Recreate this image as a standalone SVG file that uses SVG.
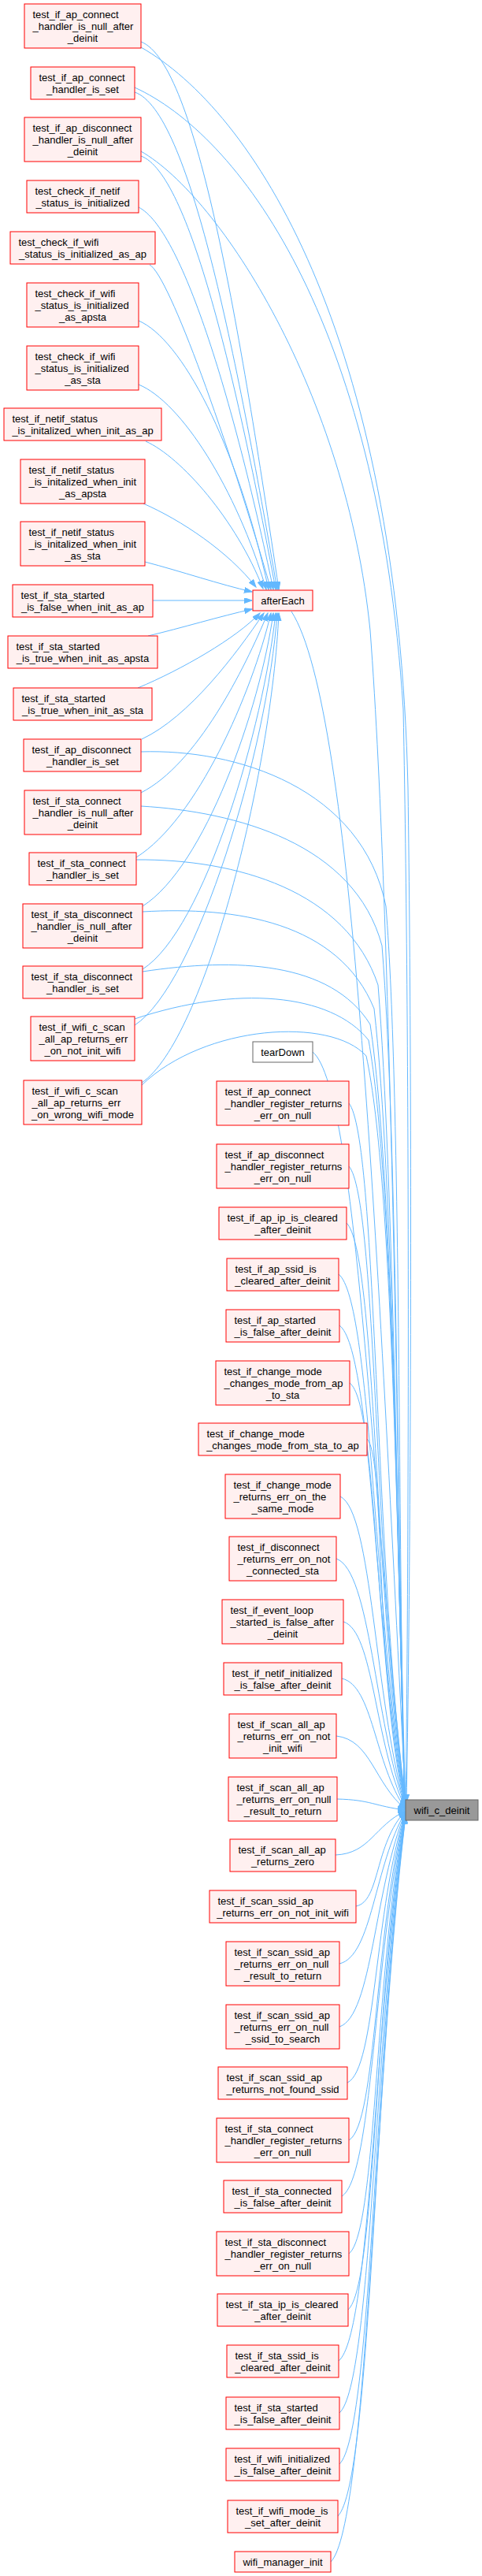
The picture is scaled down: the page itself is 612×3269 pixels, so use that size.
<svg xmlns="http://www.w3.org/2000/svg" width="612" height="3269" viewBox="0 0 612 3269">
<style>
.bg{fill:#ffffff}
.n rect{fill:#fff0f0;stroke:#ff0000;stroke-width:1}
.w rect{fill:#ffffff;stroke:#666666;stroke-width:1}
.g rect{fill:#999999;stroke:#666666;stroke-width:1}
text{font-family:"Liberation Sans",Arial,sans-serif;font-size:13px;fill:#000000}
.c{text-anchor:middle}
.e path{fill:none;stroke:#63b8ff;stroke-width:1}
</style>
<defs>
<marker id="ah" markerUnits="userSpaceOnUse" markerWidth="11" markerHeight="8" refX="10" refY="3.5" orient="auto"><path d="M0,0 L10,3.5 L0,7 z" fill="#63b8ff" stroke="#63b8ff" stroke-width="1"/></marker>
</defs>
<rect class="bg" x="0" y="0" width="612" height="3269"/>
<g id="edges" class="e" marker-end="url(#ah)">
<!-- left column to afterEach -->
<path d="M179,53 C250,80 305,420 354,748" marker-end="url(#ah)"/>
<path d="M171,117 C240,140 300,450 352,748" marker-end="url(#ah)"/>
<path d="M179,198 C240,220 300,480 350,748" marker-end="url(#ah)"/>
<path d="M176,263 C230,290 295,500 347,748" marker-end="url(#ah)"/>
<path d="M190,336 C215,350 290,560 344,748" marker-end="url(#ah)"/>
<path d="M176,407 C230,430 300,560 341,748" marker-end="url(#ah)"/>
<path d="M176,488 C230,510 300,620 338,748" marker-end="url(#ah)"/>
<path d="M185,560 C230,580 300,660 334,747" marker-end="url(#ah)"/>
<path d="M182,639 C230,660 290,700 325,745" marker-end="url(#ah)"/>
<path d="M184,713 C230,725 280,742 320,751" marker-end="url(#ah)"/>
<path d="M194,762 L320,762" marker-end="url(#ah)"/>
<path d="M188,807 C230,797 280,782 320,773" marker-end="url(#ah)"/>
<path d="M175,873 C230,850 300,810 330,778" marker-end="url(#ah)"/>
<path d="M180,938 C240,910 300,830 335,778" marker-end="url(#ah)"/>
<path d="M179,1006 C250,970 310,850 340,778" marker-end="url(#ah)"/>
<path d="M173,1088 C250,1040 320,880 344,778" marker-end="url(#ah)"/>
<path d="M181,1150 C260,1100 330,900 347,778" marker-end="url(#ah)"/>
<path d="M181,1230 C260,1180 335,920 350,778" marker-end="url(#ah)"/>
<path d="M171,1301 C250,1250 340,950 352,778" marker-end="url(#ah)"/>
<path d="M180,1374 C260,1320 345,980 354,778" marker-end="url(#ah)"/>
<!-- left column to wifi_c_deinit -->
<path d="M179,60 C320,140 505,420 518,1000 C525,1500 520,2100 516,2287" marker-end="url(#ah)"/>
<path d="M171,111 C300,170 480,400 512,900 C522,1400 518,2100 515,2288" marker-end="url(#ah)"/>
<path d="M179,192 C280,250 440,500 470,800 C500,1200 505,2000 515,2289" marker-end="url(#ah)"/>
<path d="M179,954 C300,950 460,1000 490,1150 C510,1400 505,2000 514,2289" marker-end="url(#ah)"/>
<path d="M179,1023 C300,1030 450,1070 485,1200 C505,1450 505,2000 514,2289" marker-end="url(#ah)"/>
<path d="M173,1091 C300,1090 440,1130 480,1250 C500,1500 505,2000 514,2290" marker-end="url(#ah)"/>
<path d="M181,1157 C300,1150 430,1170 475,1280 C500,1500 505,2000 514,2290" marker-end="url(#ah)"/>
<path d="M181,1233 C300,1215 420,1220 470,1300 C500,1500 505,2000 514,2290" marker-end="url(#ah)"/>
<path d="M171,1293 C300,1250 420,1260 468,1320 C500,1500 505,2000 514,2290" marker-end="url(#ah)"/>
<path d="M180,1377 C260,1300 420,1290 465,1340 C500,1500 505,2000 514,2290" marker-end="url(#ah)"/>
<!-- afterEach to wifi_c_deinit -->
<path d="M370,776 C450,900 480,1600 515,2288" marker-end="url(#ah)"/>
<!-- middle column to wifi_c_deinit -->
<path d="M397,1335 C456,1383 475,1955 515,2289" marker-end="url(#ah)"/>
<path d="M443,1400 C479,1444 475,1978 515,2290" marker-end="url(#ah)"/>
<path d="M443,1480 C479,1521 475,2007 515,2291" marker-end="url(#ah)"/>
<path d="M440,1552 C478,1589 475,2033 515,2291" marker-end="url(#ah)"/>
<path d="M430,1617 C472,1651 475,2056 515,2292" marker-end="url(#ah)"/>
<path d="M431,1682 C473,1713 475,2079 515,2292" marker-end="url(#ah)"/>
<path d="M444,1755 C480,1782 475,2105 515,2293" marker-end="url(#ah)"/>
<path d="M466,1826 C490,1850 475,2130 515,2293" marker-end="url(#ah)"/>
<path d="M432,1899 C473,1919 475,2156 515,2294" marker-end="url(#ah)"/>
<path d="M427,1978 C471,1994 475,2183 515,2294" marker-end="url(#ah)"/>
<path d="M436,2058 C475,2070 475,2212 515,2295" marker-end="url(#ah)"/>
<path d="M434,2130 C474,2139 475,2238 515,2296" marker-end="url(#ah)"/>
<path d="M427,2203 C471,2208 475,2263 515,2296" marker-end="url(#ah)"/>
<path d="M428,2283 C471,2284 475,2292 515,2297" marker-end="url(#ah)"/>
<path d="M426,2354 C470,2352 475,2317 515,2298" marker-end="url(#ah)"/>
<path d="M452,2419 C483,2413 475,2340 515,2298" marker-end="url(#ah)"/>
<path d="M431,2492 C473,2482 475,2367 515,2299" marker-end="url(#ah)"/>
<path d="M431,2572 C473,2558 475,2395 515,2299" marker-end="url(#ah)"/>
<path d="M441,2643 C478,2626 475,2420 515,2300" marker-end="url(#ah)"/>
<path d="M443,2716 C479,2695 475,2446 515,2300" marker-end="url(#ah)"/>
<path d="M434,2787 C474,2763 475,2471 515,2301" marker-end="url(#ah)"/>
<path d="M443,2860 C479,2832 475,2497 515,2301" marker-end="url(#ah)"/>
<path d="M442,2931 C478,2900 475,2522 515,2302" marker-end="url(#ah)"/>
<path d="M430,2996 C472,2962 475,2546 515,2303" marker-end="url(#ah)"/>
<path d="M431,3062 C473,3024 475,2569 515,2303" marker-end="url(#ah)"/>
<path d="M431,3127 C473,3086 475,2592 515,2304" marker-end="url(#ah)"/>
<path d="M429,3193 C472,3149 475,2616 515,2304" marker-end="url(#ah)"/>
<path d="M420,3251 C467,3204 475,2636 515,2305" marker-end="url(#ah)"/>
</g>

<!-- left column -->
<g id="n1" class="n"><rect x="31" y="5" width="148" height="56"/><text x="41.5" y="23">test_if_ap_connect</text><text x="41.5" y="38">_handler_is_null_after</text><text class="c" x="105" y="53">_deinit</text></g>
<g id="n2" class="n"><rect x="39" y="85" width="132" height="41"/><text x="49.5" y="103">test_if_ap_connect</text><text class="c" x="105" y="118">_handler_is_set</text></g>
<g id="n3" class="n"><rect x="31" y="149" width="148" height="56"/><text x="41.5" y="167">test_if_ap_disconnect</text><text x="41.5" y="182">_handler_is_null_after</text><text class="c" x="105" y="197">_deinit</text></g>
<g id="n4" class="n"><rect x="34" y="229" width="142" height="41"/><text x="44.5" y="247">test_check_if_netif</text><text class="c" x="105" y="262">_status_is_initialized</text></g>
<g id="n5" class="n"><rect x="13" y="294" width="184" height="41"/><text x="23.5" y="312">test_check_if_wifi</text><text class="c" x="105" y="327">_status_is_initialized_as_ap</text></g>
<g id="n6" class="n"><rect x="34" y="359" width="142" height="56"/><text x="44.5" y="377">test_check_if_wifi</text><text x="44.5" y="392">_status_is_initialized</text><text class="c" x="105" y="407">_as_apsta</text></g>
<g id="n7" class="n"><rect x="34" y="439" width="142" height="56"/><text x="44.5" y="457">test_check_if_wifi</text><text x="44.5" y="472">_status_is_initialized</text><text class="c" x="105" y="487">_as_sta</text></g>
<g id="n8" class="n"><rect x="5" y="518" width="200" height="41"/><text x="15.5" y="536">test_if_netif_status</text><text class="c" x="105" y="551">_is_initalized_when_init_as_ap</text></g>
<g id="n9" class="n"><rect x="26" y="583" width="158" height="56"/><text x="36.5" y="601">test_if_netif_status</text><text x="36.5" y="616">_is_initalized_when_init</text><text class="c" x="105" y="631">_as_apsta</text></g>
<g id="n10" class="n"><rect x="26" y="662" width="158" height="56"/><text x="36.5" y="680">test_if_netif_status</text><text x="36.5" y="695">_is_initalized_when_init</text><text class="c" x="105" y="710">_as_sta</text></g>
<g id="n11" class="n"><rect x="16" y="742" width="178" height="41"/><text x="26.5" y="760">test_if_sta_started</text><text class="c" x="105" y="775">_is_false_when_init_as_ap</text></g>
<g id="n12" class="n"><rect x="10" y="807" width="190" height="41"/><text x="20.5" y="825">test_if_sta_started</text><text class="c" x="105" y="840">_is_true_when_init_as_apsta</text></g>
<g id="n13" class="n"><rect x="17" y="873" width="176" height="41"/><text x="27.5" y="891">test_if_sta_started</text><text class="c" x="105" y="906">_is_true_when_init_as_sta</text></g>
<g id="n14" class="n"><rect x="30" y="938" width="149" height="41"/><text x="40.5" y="956">test_if_ap_disconnect</text><text class="c" x="105" y="971">_handler_is_set</text></g>
<g id="n15" class="n"><rect x="31" y="1003" width="148" height="56"/><text x="41.5" y="1021">test_if_sta_connect</text><text x="41.5" y="1036">_handler_is_null_after</text><text class="c" x="105" y="1051">_deinit</text></g>
<g id="n16" class="n"><rect x="37" y="1082" width="136" height="41"/><text x="47.5" y="1100">test_if_sta_connect</text><text class="c" x="105" y="1115">_handler_is_set</text></g>
<g id="n17" class="n"><rect x="29" y="1147" width="152" height="56"/><text x="39.5" y="1165">test_if_sta_disconnect</text><text x="39.5" y="1180">_handler_is_null_after</text><text class="c" x="105" y="1195">_deinit</text></g>
<g id="n18" class="n"><rect x="29" y="1226" width="152" height="41"/><text x="39.5" y="1244">test_if_sta_disconnect</text><text class="c" x="105" y="1259">_handler_is_set</text></g>
<g id="n19" class="n"><rect x="39" y="1290" width="132" height="56"/><text x="49.5" y="1308">test_if_wifi_c_scan</text><text x="49.5" y="1323">_all_ap_returns_err</text><text class="c" x="105" y="1338">_on_not_init_wifi</text></g>
<g id="n20" class="n"><rect x="30" y="1371" width="150" height="56"/><text x="40.5" y="1389">test_if_wifi_c_scan</text><text x="40.5" y="1404">_all_ap_returns_err</text><text class="c" x="105" y="1419">_on_wrong_wifi_mode</text></g>

<!-- middle column -->
<g id="afterEach" class="n"><rect x="321" y="749" width="76" height="26"/><text class="c" x="359" y="767">afterEach</text></g>
<g id="tearDown" class="w"><rect x="321" y="1322" width="76" height="26"/><text class="c" x="359" y="1340">tearDown</text></g>
<g id="m1" class="n"><rect x="275" y="1372" width="168" height="56"/><text x="285.5" y="1390">test_if_ap_connect</text><text x="285.5" y="1405">_handler_register_returns</text><text class="c" x="359" y="1420">_err_on_null</text></g>
<g id="m2" class="n"><rect x="275" y="1452" width="168" height="56"/><text x="285.5" y="1470">test_if_ap_disconnect</text><text x="285.5" y="1485">_handler_register_returns</text><text class="c" x="359" y="1500">_err_on_null</text></g>
<g id="m3" class="n"><rect x="278" y="1532" width="162" height="41"/><text x="288.5" y="1550">test_if_ap_ip_is_cleared</text><text class="c" x="359" y="1565">_after_deinit</text></g>
<g id="m4" class="n"><rect x="288" y="1597" width="142" height="41"/><text x="298.5" y="1615">test_if_ap_ssid_is</text><text class="c" x="359" y="1630">_cleared_after_deinit</text></g>
<g id="m5" class="n"><rect x="287" y="1662" width="144" height="41"/><text x="297.5" y="1680">test_if_ap_started</text><text class="c" x="359" y="1695">_is_false_after_deinit</text></g>
<g id="m6" class="n"><rect x="274" y="1727" width="170" height="56"/><text x="284.5" y="1745">test_if_change_mode</text><text x="284.5" y="1760">_changes_mode_from_ap</text><text class="c" x="359" y="1775">_to_sta</text></g>
<g id="m7" class="n"><rect x="252" y="1806" width="214" height="41"/><text x="262.5" y="1824">test_if_change_mode</text><text class="c" x="359" y="1839">_changes_mode_from_sta_to_ap</text></g>
<g id="m8" class="n"><rect x="286" y="1871" width="146" height="56"/><text x="296.5" y="1889">test_if_change_mode</text><text x="296.5" y="1904">_returns_err_on_the</text><text class="c" x="359" y="1919">_same_mode</text></g>
<g id="m9" class="n"><rect x="291" y="1950" width="136" height="56"/><text x="301.5" y="1968">test_if_disconnect</text><text x="301.5" y="1983">_returns_err_on_not</text><text class="c" x="359" y="1998">_connected_sta</text></g>
<g id="m10" class="n"><rect x="282" y="2030" width="154" height="56"/><text x="292.5" y="2048">test_if_event_loop</text><text x="292.5" y="2063">_started_is_false_after</text><text class="c" x="359" y="2078">_deinit</text></g>
<g id="m11" class="n"><rect x="284" y="2110" width="150" height="41"/><text x="294.5" y="2128">test_if_netif_initialized</text><text class="c" x="359" y="2143">_is_false_after_deinit</text></g>
<g id="m12" class="n"><rect x="291" y="2175" width="136" height="56"/><text x="301.5" y="2193">test_if_scan_all_ap</text><text x="301.5" y="2208">_returns_err_on_not</text><text class="c" x="359" y="2223">_init_wifi</text></g>
<g id="m13" class="n"><rect x="290" y="2255" width="138" height="56"/><text x="300.5" y="2273">test_if_scan_all_ap</text><text x="300.5" y="2288">_returns_err_on_null</text><text class="c" x="359" y="2303">_result_to_return</text></g>
<g id="m14" class="n"><rect x="292" y="2334" width="134" height="41"/><text x="302.5" y="2352">test_if_scan_all_ap</text><text class="c" x="359" y="2367">_returns_zero</text></g>
<g id="m15" class="n"><rect x="266" y="2399" width="186" height="41"/><text x="276.5" y="2417">test_if_scan_ssid_ap</text><text class="c" x="359" y="2432">_returns_err_on_not_init_wifi</text></g>
<g id="m16" class="n"><rect x="287" y="2464" width="144" height="56"/><text x="297.5" y="2482">test_if_scan_ssid_ap</text><text x="297.5" y="2497">_returns_err_on_null</text><text class="c" x="359" y="2512">_result_to_return</text></g>
<g id="m17" class="n"><rect x="287" y="2544" width="144" height="56"/><text x="297.5" y="2562">test_if_scan_ssid_ap</text><text x="297.5" y="2577">_returns_err_on_null</text><text class="c" x="359" y="2592">_ssid_to_search</text></g>
<g id="m18" class="n"><rect x="277" y="2623" width="164" height="41"/><text x="287.5" y="2641">test_if_scan_ssid_ap</text><text class="c" x="359" y="2656">_returns_not_found_ssid</text></g>
<g id="m19" class="n"><rect x="275" y="2688" width="168" height="56"/><text x="285.5" y="2706">test_if_sta_connect</text><text x="285.5" y="2721">_handler_register_returns</text><text class="c" x="359" y="2736">_err_on_null</text></g>
<g id="m20" class="n"><rect x="284" y="2767" width="150" height="41"/><text x="294.5" y="2785">test_if_sta_connected</text><text class="c" x="359" y="2800">_is_false_after_deinit</text></g>
<g id="m21" class="n"><rect x="275" y="2832" width="168" height="56"/><text x="285.5" y="2850">test_if_sta_disconnect</text><text x="285.5" y="2865">_handler_register_returns</text><text class="c" x="359" y="2880">_err_on_null</text></g>
<g id="m22" class="n"><rect x="276" y="2911" width="166" height="41"/><text x="286.5" y="2929">test_if_sta_ip_is_cleared</text><text class="c" x="359" y="2944">_after_deinit</text></g>
<g id="m23" class="n"><rect x="288" y="2976" width="142" height="41"/><text x="298.5" y="2994">test_if_sta_ssid_is</text><text class="c" x="359" y="3009">_cleared_after_deinit</text></g>
<g id="m24" class="n"><rect x="287" y="3042" width="144" height="41"/><text x="297.5" y="3060">test_if_sta_started</text><text class="c" x="359" y="3075">_is_false_after_deinit</text></g>
<g id="m25" class="n"><rect x="287" y="3107" width="144" height="41"/><text x="297.5" y="3125">test_if_wifi_initialized</text><text class="c" x="359" y="3140">_is_false_after_deinit</text></g>
<g id="m26" class="n"><rect x="289" y="3173" width="140" height="41"/><text x="299.5" y="3191">test_if_wifi_mode_is</text><text class="c" x="359" y="3206">_set_after_deinit</text></g>
<g id="m27" class="n"><rect x="298" y="3238" width="122" height="26"/><text class="c" x="359" y="3256">wifi_manager_init</text></g>

<!-- target -->
<g id="wifi_c_deinit" class="g"><rect x="515" y="2284" width="92" height="26"/><text class="c" x="561" y="2302">wifi_c_deinit</text></g>
</svg>
